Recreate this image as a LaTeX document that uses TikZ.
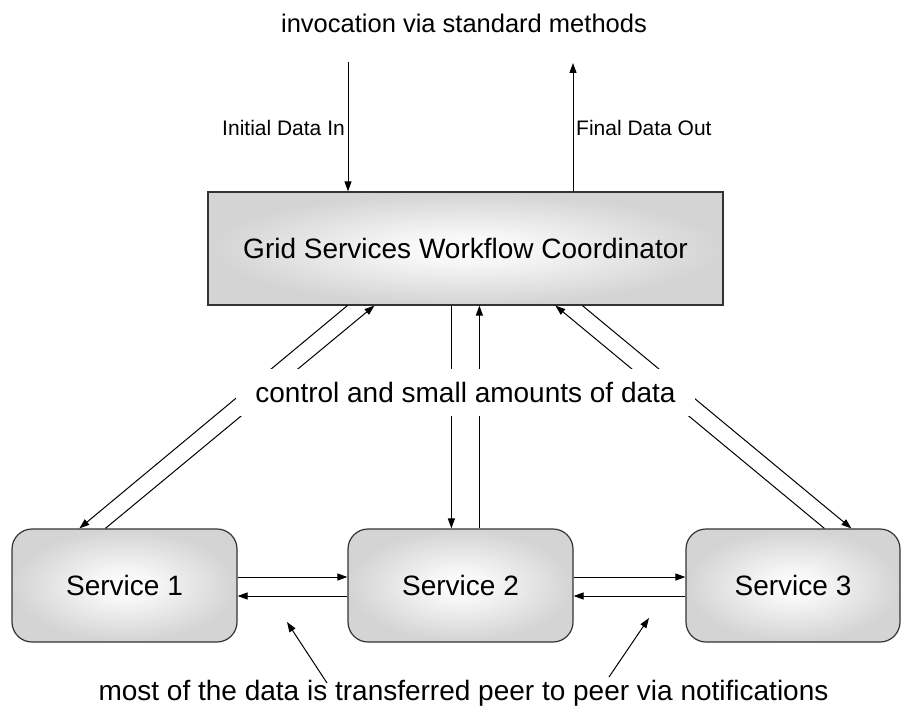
\documentclass[tikz,border=0pt]{standalone}
\usepackage{fontspec}
\setmainfont{Liberation Sans}
\usetikzlibrary{arrows.meta,calc}
\pgfdeclareradialshading{boxshade}{\pgfpoint{0bp}{0bp}}{color(0bp)=(white); color(6bp)=(white!97!black); color(25bp)=(black!17); color(50bp)=(black!17)}
\tikzset{
  boxbase/.style={draw=black!80, line width=1.2pt, shading=boxshade, inner sep=0pt,
    font=\fontsize{28}{34}\selectfont},
  coordbox/.style={boxbase, rectangle, minimum width=515pt, minimum height=113pt},
  servbox/.style={boxbase, rectangle, rounded corners=20pt, minimum height=113pt},
  conn/.style={line width=1pt, -{Triangle[length=10pt,width=7pt]}},
  bigtext/.style={font=\fontsize{28}{34}\selectfont, inner sep=0pt},
  titletext/.style={font=\fontsize{25.5}{30}\selectfont, inner sep=0pt},
  smalltext/.style={font=\fontsize{21}{25}\selectfont, inner sep=0pt},
}
\begin{document}
\begin{tikzpicture}[x=1pt,y=-1pt]
\useasboundingbox (0,0) rectangle (902,709);
% nodes
\node[coordbox] (coord) at (465.5,248.5) {Grid Services Workflow Coordinator};
\node[servbox, minimum width=225pt] (s1) at (124.5,585.5) {Service 1};
\node[servbox, minimum width=225pt] (s2) at (460.5,585.5) {Service 2};
\node[servbox, minimum width=214pt] (s3) at (793,585.5) {Service 3};
\node[titletext] (title) at (464,23) {invocation via standard methods};
\node[smalltext, anchor=east] (inlab) at (345,128) {Initial Data In};
\node[smalltext, anchor=west] (outlab) at (576,128) {Final Data Out};
\node[bigtext] (bottom) at (463.5,693) {most of the data is transferred peer to peer via notifications};
% top arrows
\coordinate (inTop) at (348,62);
\coordinate (outTop) at (573,63);
\draw[conn] (inTop) -- (inTop |- coord.north);
\draw[conn] (outTop |- coord.north) -- (outTop);
% coordinator <-> services
\draw[conn] ([xshift=140pt]coord.south west) -- ([xshift=68pt]s1.north west);
\draw[conn] ([xshift=94pt]s1.north west) -- ([xshift=167pt]coord.south west);
\draw[conn] ([xshift=244pt]coord.south west) -- ([xshift=104pt]s2.north west);
\draw[conn] ([xshift=132pt]s2.north west) -- ([xshift=272pt]coord.south west);
\draw[conn] ([xshift=139pt]s3.north west) -- ([xshift=348pt]coord.south west);
\draw[conn] ([xshift=375pt]coord.south west) -- ([xshift=166pt]s3.north west);
% middle label covering the lines
\node[bigtext, fill=white, minimum width=459pt, minimum height=47pt] (ctrl) at (465.5,392.5) {control and small amounts of data};
% peer-to-peer arrows
\draw[conn] (s1.east |- 0,577) -- (s2.west |- 0,577);
\draw[conn] (s2.west |- 0,596) -- (s1.east |- 0,596);
\draw[conn] (s2.east |- 0,577) -- (s3.west |- 0,577);
\draw[conn] (s3.west |- 0,596) -- (s2.east |- 0,596);
% pointers from bottom text
\coordinate (p1s) at (327,683);
\coordinate (p1e) at (287,622);
\coordinate (p2s) at (609,677);
\coordinate (p2e) at (649,618);
\draw[conn] (p1s) -- (p1e);
\draw[conn] (p2s) -- (p2e);
\end{tikzpicture}
\end{document}
